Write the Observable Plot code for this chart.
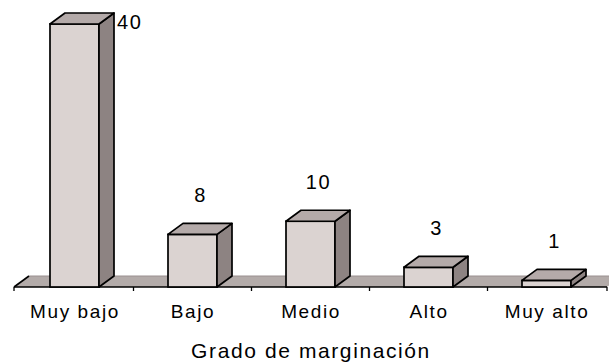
<!DOCTYPE html>
<html>
<head>
<meta charset="utf-8">
<script src="https://cdn.jsdelivr.net/npm/d3@7"></script>
<script src="https://cdn.jsdelivr.net/npm/@observablehq/plot@0.6"></script>
<style>
  html, body { margin: 0; padding: 0; background: #fff; }
  #chart svg text { letter-spacing: 1.6px; }
</style>
</head>
<body>
<div id="chart"></div>
<script>
// Municipios por grado de marginación
const categories = ["Muy bajo", "Bajo", "Medio", "Alto", "Muy alto"];
const values = [40, 8, 10, 3, 1];
const axisTitle = "Grado de marginación";

const data = categories.map((grado, i) => ({grado, n: values[i]}));
const maxValue = d3.max(values);

// pseudo-3D styling
const DEPTH_X = 15, DEPTH_Y = 11;
const FRONT = "#dbd3d1", SIDE = "#8d8382", TOP = "#b4aaa9", FLOOR = "#b3aba9";

function bandwidthOf(sx) {
  if (typeof sx.bandwidth === "function") return sx.bandwidth();
  if (typeof sx.bandwidth === "number") return sx.bandwidth;
  return 0;
}

function poly(points, fill, stroke, width) {
  const p = document.createElementNS("http://www.w3.org/2000/svg", "polygon");
  p.setAttribute("points", points.map(d => d.join(",")).join(" "));
  p.setAttribute("fill", fill);
  p.setAttribute("stroke", stroke);
  p.setAttribute("stroke-width", width);
  p.setAttribute("stroke-linejoin", "round");
  return p;
}

function line(x1, y1, x2, y2, stroke, width) {
  const l = document.createElementNS("http://www.w3.org/2000/svg", "line");
  l.setAttribute("x1", x1); l.setAttribute("y1", y1);
  l.setAttribute("x2", x2); l.setAttribute("y2", y2);
  l.setAttribute("stroke", stroke);
  l.setAttribute("stroke-width", width);
  return l;
}

// floor slab with category boundary ticks
function floorMark(index, scales, vals, dims) {
  const g = document.createElementNS("http://www.w3.org/2000/svg", "g");
  const sx = scales.x, sy = scales.y;
  const bw = bandwidthOf(sx);
  const x0 = dims.marginLeft, x1 = dims.width - dims.marginRight;
  const y0 = sy(0);
  g.appendChild(poly([[x0, y0], [x1, y0], [x1 + DEPTH_X, y0 - DEPTH_Y], [x0 + DEPTH_X, y0 - DEPTH_Y]], FLOOR, "none", 0));
  g.appendChild(line(x0 + DEPTH_X, y0 - DEPTH_Y, x1 + DEPTH_X, y0 - DEPTH_Y, "#9a9090", 1));
  g.appendChild(line(x0, y0, x0 + DEPTH_X, y0 - DEPTH_Y, "#000", 1.6));
  g.appendChild(line(x0, y0, x1, y0, "#000", 1.3));
  const centers = categories.map(c => sx(c) + bw / 2);
  const bounds = [x0];
  for (let i = 0; i < centers.length - 1; i++) bounds.push((centers[i] + centers[i + 1]) / 2);
  bounds.push(x1);
  for (const b of bounds) g.appendChild(line(b, y0, b, y0 + 4, "#000", 1.3));
  return g;
}

// top and side faces of each bar
function facesMark(index, scales, vals, dims) {
  const g = document.createElementNS("http://www.w3.org/2000/svg", "g");
  const sx = scales.x, sy = scales.y;
  const bw = bandwidthOf(sx);
  const y0 = sy(0);
  for (const d of data) {
    const xl = sx(d.grado), xr = xl + bw, yt = sy(d.n);
    g.appendChild(poly([[xr, y0], [xr, yt], [xr + DEPTH_X, yt - DEPTH_Y], [xr + DEPTH_X, y0 - DEPTH_Y]], SIDE, "#000", 1.7));
    g.appendChild(poly([[xl, yt], [xr, yt], [xr + DEPTH_X, yt - DEPTH_Y], [xl + DEPTH_X, yt - DEPTH_Y]], TOP, "#000", 1.7));
  }
  return g;
}

const chart = Plot.plot({
  width: 609,
  height: 362,
  marginLeft: 14,
  marginRight: 2,
  marginTop: 24,
  marginBottom: 75,
  style: {fontFamily: "'Liberation Sans', Arial, sans-serif", color: "#000", background: "#fff"},
  x: {domain: categories, paddingInner: 0.587, paddingOuter: 0.2935},
  y: {domain: [0, maxValue], axis: null},
  marks: [
    floorMark,
    Plot.barY(data, {x: "grado", y: "n", fill: FRONT, stroke: "#000", strokeWidth: 1.7}),
    facesMark,
    Plot.axisX({tickSize: 0, tickPadding: 17, fontSize: 19, label: null}),
    Plot.text([axisTitle], {frameAnchor: "bottom", dy: 64, fontSize: 21, lineAnchor: "middle"}),
    Plot.text(data, {filter: d => d.n !== maxValue, x: "grado", y: "n", text: d => String(d.n), dx: 7.5, dy: -39, fontSize: 20, lineAnchor: "middle"}),
    Plot.text(data, {filter: d => d.n === maxValue, x: "grado", y: "n", text: d => String(d.n), dx: 42, dy: -2, fontSize: 20, textAnchor: "start", lineAnchor: "middle"})
  ]
});

document.getElementById("chart").appendChild(chart);
</script>
</body>
</html>
